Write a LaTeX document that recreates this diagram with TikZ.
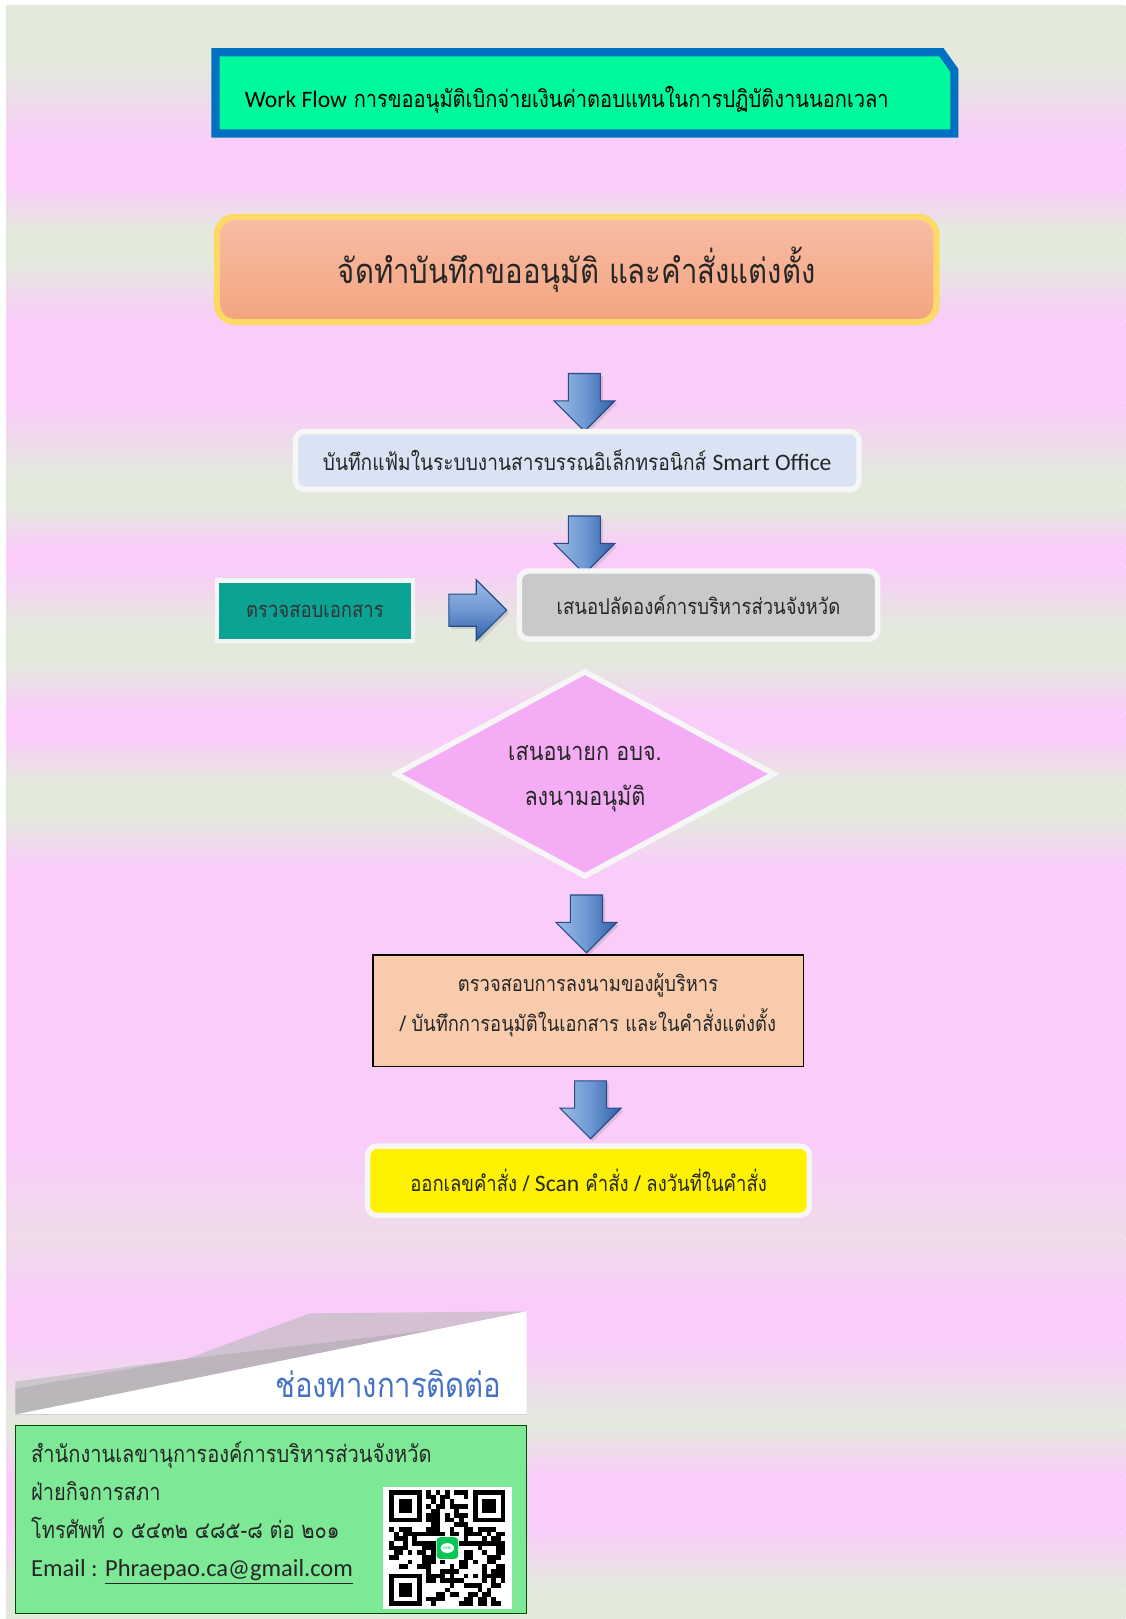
\documentclass[tikz,border=0pt]{standalone}
\usepackage{fontspec}
\setmainfont[Script=Thai, FakeStretch=0.85]{Loma}
\newfontfamily\engfont{Carlito}
\usetikzlibrary{shapes.geometric, shapes.arrows, shadows, positioning}

\definecolor{bgG}{HTML}{E3EADC}
\definecolor{bgP}{HTML}{FACCFA}
\definecolor{bgM}{HTML}{EEDCEA}
\definecolor{titleblue}{HTML}{0070C0}
\definecolor{titlegreen}{HTML}{00F99B}
\definecolor{boxgold}{HTML}{FFD966}
\definecolor{salmonA}{HTML}{F7BDA6}
\definecolor{salmonB}{HTML}{F4A47F}
\definecolor{paleblue}{HTML}{DAE3F3}
\definecolor{teal}{HTML}{0AA394}
\definecolor{greybox}{HTML}{C9C9C9}
\definecolor{violet}{HTML}{F4ADF5}
\definecolor{peach}{HTML}{F8CBAD}
\definecolor{linkblue}{HTML}{4472C4}
\definecolor{contactgreen}{HTML}{7DE895}
\definecolor{arrlight}{HTML}{9CBDE6}
\definecolor{arrmid}{HTML}{6E98D2}
\definecolor{arrdark}{HTML}{2F5FA8}
\definecolor{linegreen}{HTML}{06C755}

\begin{document}
\begin{tikzpicture}[
    x=0.02cm, y=-0.02cm,
    txt/.style={text=black!85},
    titlebox/.style={minimum width=14.3cm, minimum height=1.56cm, inner sep=0pt},
    makebox/.style={draw=boxgold, line width=3.4pt, top color=salmonA, bottom color=salmonB, rounded corners=0.35cm,
        minimum width=13.94cm, minimum height=2.04cm, font=\fontsize{19}{22}\selectfont, txt},
    softbox/.style={draw=white!93!gray, line width=3pt, rounded corners=0.18cm, txt},
    filebox/.style={softbox, fill=paleblue, minimum width=10.92cm, minimum height=1.12cm, font=\fontsize{12.4}{15}\selectfont},
    checkbox/.style={draw=white!93!gray, line width=2.5pt, fill=teal, minimum width=3.8cm, minimum height=1.18cm,
        font=\fontsize{12}{15}\selectfont, text=black!80},
    proposebox/.style={softbox, fill=greybox, minimum width=6.94cm, minimum height=1.32cm, font=\fontsize{12}{15}\selectfont},
    decision/.style={diamond, aspect=1.84, draw=white!93!gray, line width=3pt, fill=violet, minimum width=7.36cm,
        minimum height=4.0cm, inner sep=0pt, font=\fontsize{14}{25}\selectfont, txt},
    signbox/.style={draw=black, line width=0.8pt, fill=peach, minimum width=8.34cm, minimum height=2.16cm,
        font=\fontsize{11.9}{22}\selectfont, txt},
    issuebox/.style={softbox, fill=yellow, minimum width=8.56cm, minimum height=1.34cm, font=\fontsize{12}{15}\selectfont},
    flow/.style={single arrow, draw=arrdark!80!black, line width=0.6pt, inner xsep=0pt, inner ysep=0.3cm,
        minimum height=1.12cm, single arrow head extend=0.28cm,
        drop shadow={opacity=0.25, shadow xshift=0.05cm, shadow yshift=-0.05cm}},
    downflow/.style={flow, rotate=-90, left color=arrlight, right color=arrdark, middle color=arrmid},
    rightflow/.style={flow, top color=arrlight, bottom color=arrdark, middle color=arrmid}
]

% Background bands
\fill[white] (0,0) rectangle (1090,1568);
\foreach \ya/\yb/\ca/\cb in {5/60/bgG/bgG, 60/140/bgG/bgP, 140/180/bgP/bgP, 180/225/bgP/bgG, 225/250/bgG/bgG,
    250/310/bgG/bgP, 310/390/bgP/bgP, 390/465/bgP/bgG, 465/490/bgG/bgG, 490/530/bgG/bgP, 530/550/bgP/bgP,
    550/610/bgP/bgG, 610/640/bgG/bgG, 640/690/bgG/bgP, 690/715/bgP/bgP, 715/760/bgP/bgG, 760/790/bgG/bgG,
    790/840/bgG/bgP, 840/1110/bgP/bgP, 1110/1200/bgP/bgM, 1200/1260/bgM/bgP, 1260/1300/bgP/bgP,
    1300/1380/bgP/bgG, 1380/1430/bgG/bgP, 1430/1480/bgP/bgP, 1480/1540/bgP/bgG, 1540/1568/bgG/bgG}
  \fill[top color=\ca, bottom color=\cb] (6,\ya) rectangle (1090,\yb);

% Title
\node[titlebox] (title) at (566.5,90) {};
\draw[titleblue, line width=4.5pt, fill=titlegreen, line join=miter]
  (title.south west) -- (title.north west) -- ([xshift=-0.25cm]title.north east)
  -- ([yshift=-0.35cm]title.north east) -- (title.south east) -- cycle;
\node[anchor=west, font=\fontsize{13}{16}\selectfont] (titletxt) at (231,97)
  {{\engfont\fontsize{13}{16}\selectfont Work Flow} การขออนุมัติเบิกจ่ายเงินค่าตอบแทนในการปฏิบัติงานนอกเวลา};

% Flow boxes
\node[makebox] (make) at (558.5,261) {จัดทำบันทึกขออนุมัติ และคำสั่งแต่งตั้ง};
\node[downflow] (a1) at (566,382) {};
\node[filebox] (file) at (559,446) {บันทึกแฟ้มในระบบงานสารบรรณอิเล็กทรอนิกส์ {\engfont\fontsize{13}{15}\selectfont Smart Office}};
\node[downflow] (a2) at (566,520) {};
\node[checkbox] (check) at (305,591.5) {ตรวจสอบเอกสาร};
\node[rightflow] (a3) at (455,591) {};
\node[proposebox] (propose) at (676.5,586) {เสนอปลัดองค์การบริหารส่วนจังหวัด};
\node[decision] (approve) at (566.5,749.5)
  {\raisebox{-0.12cm}{\begin{tabular}{@{}c@{}}เสนอนายก อบจ.\\ลงนามอนุมัติ\end{tabular}}};
\node[downflow] (a4) at (568,887) {};
\node[signbox] (sign) at (569.5,979)
  {\begin{tabular}{@{}c@{}}ตรวจสอบการลงนามของผู้บริหาร\\/ บันทึกการอนุมัติในเอกสาร และในคำสั่งแต่งตั้ง\\[0.28cm]\end{tabular}};
\node[downflow] (a5) at (572,1067) {};
\node[issuebox] (issue) at (570,1143.5) {ออกเลขคำสั่ง / {\engfont\fontsize{13}{15}\selectfont Scan} คำสั่ง / ลงวันที่ในคำสั่ง};

% Contact header
\fill[gray!55, opacity=0.6] (15,1338) -- (181,1316) -- (300,1272) -- (510,1270) -- (15,1370) -- cycle;
\fill[gray!80, opacity=0.35] (15,1345) -- (181,1316) -- (420,1288) -- (15,1370) -- cycle;
\fill[white] (15,1370) -- (510,1270) -- (510,1370) -- cycle;
\draw[gray!35] (15,1370) -- (510,1370);
\node[anchor=east, text=linkblue, font=\fontsize{19}{23}\selectfont] (contacthead) at (492,1340) {ช่องทางการติดต่อ};

% Contact box
\node[draw=black!70!green, line width=0.5pt, fill=contactgreen, anchor=north west, minimum width=9.9cm,
  minimum height=3.64cm, inner sep=0pt] (contact) at (15,1380) {};
\node[anchor=north west, align=left, txt, font=\fontsize{13}{21}\selectfont] (contacttxt) at (24,1390)
  {สำนักงานเลขานุการองค์การบริหารส่วนจังหวัด\\
   ฝ่ายกิจการสภา\\
   โทรศัพท์ ๐ ๕๔๓๒ ๔๘๕-๘ ต่อ ๒๐๑\\
   {\engfont\fontsize{13.5}{21}\selectfont Email : \underline{Phraepao.ca@gmail.com}}};

% QR code
\fill[white] (371,1440) rectangle (496,1558);
\pgfmathsetseed{17}
\foreach \i in {0,...,24}{
  \foreach \j in {0,...,24}{
    \pgfmathtruncatemacro\on{((\i<8 && \j<8) || (\i>16 && \j<8) || (\i<8 && \j>16) || (\i>9 && \i<15 && \j>9 && \j<15)) ? 0 : (rnd>0.48)}
    \ifnum\on=1 \fill[black] (377+\i*4.5,1443+\j*4.5) rectangle ++(4.5,4.5); \fi
  }
}
\foreach \qx/\qy in {377/1443, 458/1443, 377/1524}{
  \fill[black] (\qx,\qy) rectangle ++(31.5,31.5);
  \fill[white] (\qx+4.5,\qy+4.5) rectangle ++(22.5,22.5);
  \fill[black] (\qx+9,\qy+9) rectangle ++(13.5,13.5);
}
\node[fill=linegreen, rounded corners=2pt, minimum size=0.42cm, inner sep=0pt, text=linegreen,
  font=\engfont\fontsize{2.5}{3}\selectfont,
  path picture={\fill[white] (path picture bounding box.center) ellipse (0.13cm and 0.095cm);}]
  (linelogo) at (433.25,1499.25) {LINE};

\end{tikzpicture}
\end{document}
